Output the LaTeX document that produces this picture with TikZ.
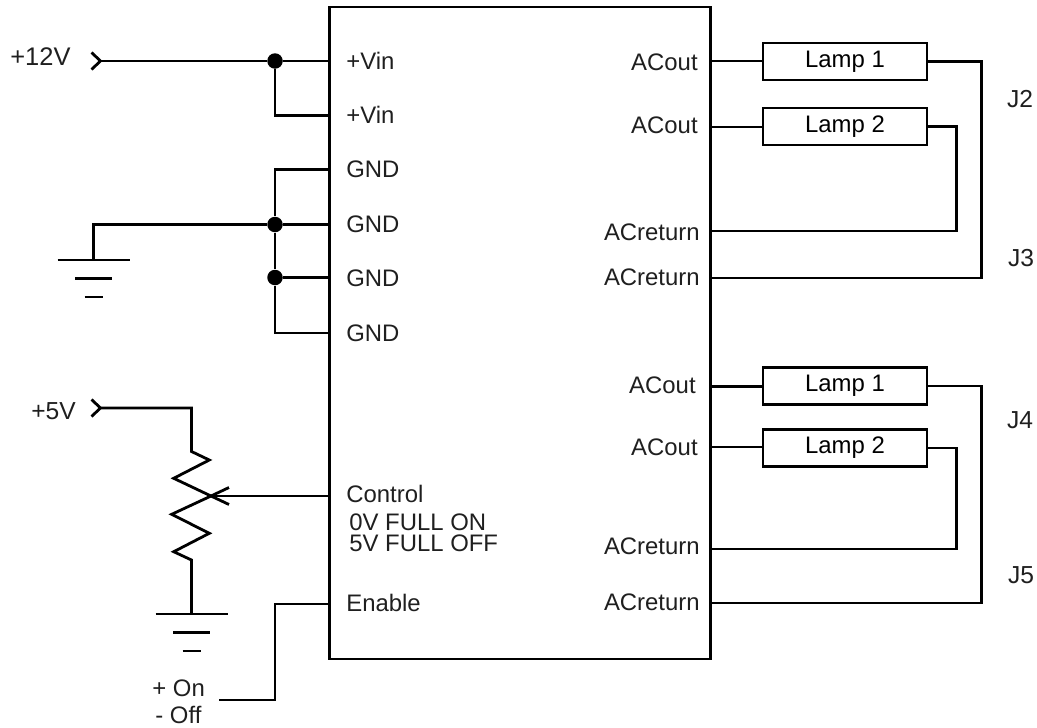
\documentclass[tikz,border=0pt]{standalone}
\usepackage{fontspec}
\setmainfont{Liberation Sans}
\def\boxleft{329.5}
\def\boxright{710.5}
\tikzset{
  wire/.style={line width=0.056cm,line join=miter},
  pinlabel/.style={inner sep=0pt,text height=9.8pt,text depth=0pt,text=black!88,font=\fontsize{13.6}{13.6}\selectfont},
  lamp/.style={draw,line width=0.056cm,inner sep=0pt,minimum width=3.28cm,minimum height=0.74cm,font=\fontsize{13.6}{13.6}\selectfont},
  junction/.style={circle,fill=black,inner sep=0pt,minimum size=0.31cm}
}

\begin{document}
\begin{tikzpicture}[x=0.02cm,y=-0.02cm]
  \useasboundingbox (0,0) rectangle (1037,727);
  \node[draw,line width=0.056cm,inner sep=0pt,minimum width=7.62cm,minimum height=13.04cm] (unit) at (520,333) {};

  % pins on the left side of the unit
  \foreach \name/\ypos/\ytxt/\txt in {
      vinA/61/61/+Vin,
      vinB/115.5/115/+Vin,
      gndA/169.5/169/GND,
      gndB/224.5/223.5/GND,
      gndC/277.5/278/GND,
      gndD/333/333/GND,
      ctl/496/494/Control,
      ena/604/603/Enable
    } {
      \coordinate (\name) at (\boxleft,\ypos);
      \node[pinlabel,anchor=west] (lbl\name) at (346,\ytxt) {\txt};
    };
  \node[pinlabel,anchor=west] (lblon) at (349,522) {0V FULL ON};
  \node[pinlabel,anchor=west] (lbloff) at (349,543) {5V FULL OFF};

  % pins on the right side of the unit
  \foreach \name/\ypos/\xtxt/\ytxt/\txt in {
      outA/61/698/61.5/ACout,
      outB/127/698/125/ACout,
      retB/231/700/231.5/ACreturn,
      retA/278/700/276.5/ACreturn,
      outC/386.5/696/385/ACout,
      outD/447/698/447/ACout,
      retD/549/700/545.5/ACreturn,
      retC/603/700/601.5/ACreturn
    } {
      \coordinate (\name) at (\boxright,\ypos);
      \node[pinlabel,anchor=east] (lbl\name) at (\xtxt,\ytxt) {\txt};
    };

  % supply and ground on the left
  \node[pinlabel,anchor=west,font=\fontsize{14.5}{14.5}\selectfont] (lbl12) at (10,57) {+12V};
  \node[pinlabel,anchor=west,font=\fontsize{14}{14}\selectfont] (lbl5) at (31,411) {+5V};
  \coordinate (in12) at (100.5,61);
  \coordinate (in5) at (100.5,408);
  \node[junction] (dotA) at (275,61) {};
  \node[junction] (dotB) at (275,224.5) {};
  \node[junction] (dotC) at (275,277.5) {};
  \coordinate (earthA) at (93.5,260);
  \coordinate (earthB) at (191.5,614);
  \foreach \tip in {in12,in5} {
    \draw[wire] (\tip) ++(-9,-8.5) -- (\tip) -- ++(-9,8.5);
  };
  \foreach \earth in {earthA,earthB} {
    \draw[wire] (\earth) ++(-36,0) -- ++(72,0);
    \draw[wire] (\earth) ++(-18.5,18.5) -- ++(37,0);
    \draw[wire] (\earth) ++(-9,37) -- ++(18,0);
  };
  \draw[wire] (in12) -- (dotA) -- (vinA);
  \draw[wire] (dotA) |- (vinB);
  \draw[wire] (gndA) -| (dotB);
  \draw[wire] (dotB) -- (dotC);
  \draw[wire] (dotC) |- (gndD);
  \draw[wire] (dotB) -- (gndB);
  \draw[wire] (dotC) -- (gndC);
  \draw[wire] (dotB) -| (earthA);

  % potentiometer
  \coordinate (wiper) at (211,496);
  \draw[wire] (in5) -| (191.5,451.5) -- (209.3,460) -- (173.7,478.3) -- (wiper)
    -- (171.7,514.3) -- (209.3,533.3) -- (173.7,551.7) -- (191.5,560) -- (earthB);
  \draw[wire] (ctl) -- (wiper);
  \draw[wire] (229,487.5) -- (wiper) -- (229,504.5);

  % enable input
  \node[pinlabel,anchor=west] (lblplus) at (152,688) {+ On};
  \node[pinlabel,anchor=west] (lblminus) at (155,715) {- Off};
  \coordinate (enaend) at (219,700);
  \draw[wire] (ena) -| (275,700) -- (enaend);

  % lamps on the right
  \foreach \name/\ypos/\lbl in {
      lampA/61.5/Lamp 1,
      lampB/126.5/Lamp 2,
      lampC/386/Lamp 1,
      lampD/448/Lamp 2
    } {
      \node[lamp] (\name) at (845,\ypos) {\lbl};
    };
  \foreach \from/\lmp/\back/\xturn in {
      outA/lampA/retA/981.5,
      outB/lampB/retB/956.5,
      outC/lampC/retC/981.5,
      outD/lampD/retD/956.5
    } {
      \draw[wire] (\from) -- (\from -| \lmp.west);
      \draw[wire] (\lmp.east) -| (\xturn,0 |- \back) -- (\back);
    };
  \node[pinlabel,font=\fontsize{14}{14}\selectfont] (jA) at (1020,99) {J2};
  \node[pinlabel,font=\fontsize{14}{14}\selectfont] (jB) at (1021,258) {J3};
  \node[pinlabel,font=\fontsize{14}{14}\selectfont] (jC) at (1020,420) {J4};
  \node[pinlabel,font=\fontsize{14}{14}\selectfont] (jD) at (1021,575) {J5};
\end{tikzpicture}
\end{document}
